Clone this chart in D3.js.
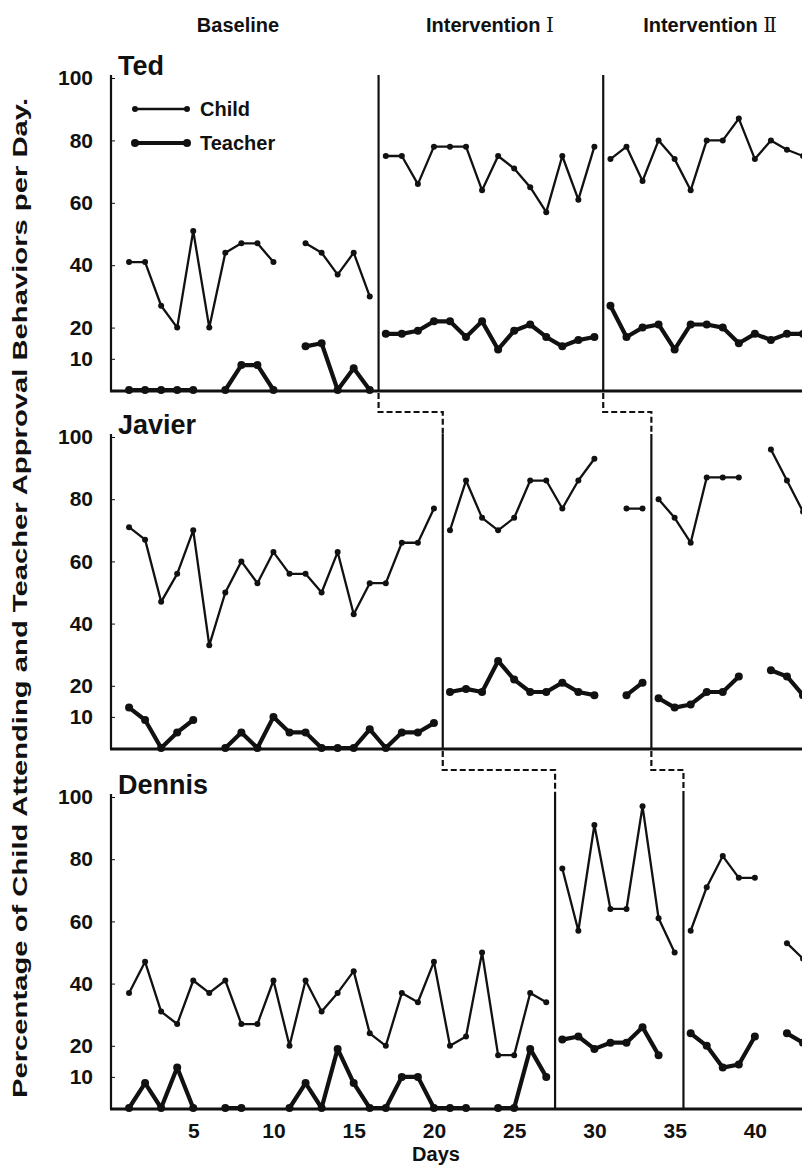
<!DOCTYPE html>
<html>
<head>
<meta charset="utf-8">
<script src="https://cdn.jsdelivr.net/npm/d3@7"></script>
<style>
  body { margin: 0; background: #fff; }
  svg { display: block; }
  text { font-family: "Liberation Sans", Arial, sans-serif; font-weight: bold; fill: #111; }
</style>
</head>
<body>
<div id="chart"></div>
<script>
// Data, one value per day (day 1 .. 43), null = no observation
var tedChild = [41, 41, 27, 20, 51, 20, 44, 47, 47, 41, null, 47, 44, 37, 44, 30,
  75, 75, 66, 78, 78, 78, 64, 75, 71, 65, 57, 75, 61, 78,
  74, 78, 67, 80, 74, 64, 80, 80, 87, 74, 80, 77, 75];
var tedTeacher = [0, 0, 0, 0, 0, null, 0, 8, 8, 0, null, 14, 15, 0, 7, 0,
  18, 18, 19, 22, 22, 17, 22, 13, 19, 21, 17, 14, 16, 17,
  27, 17, 20, 21, 13, 21, 21, 20, 15, 18, 16, 18, 18];
var javierChild = [71, 67, 47, 56, 70, 33, 50, 60, 53, 63, 56, 56, 50, 63, 43, 53, 53, 66, 66, 77,
  70, 86, 74, 70, 74, 86, 86, 77, 86, 93, null, 77, 77,
  80, 74, 66, 87, 87, 87, null, 96, 86, 76];
var javierTeacher = [13, 9, 0, 5, 9, null, 0, 5, 0, 10, 5, 5, 0, 0, 0, 6, 0, 5, 5, 8,
  18, 19, 18, 28, 22, 18, 18, 21, 18, 17, null, 17, 21,
  16, 13, 14, 18, 18, 23, null, 25, 23, 17];
var dennisChild = [37, 47, 31, 27, 41, 37, 41, 27, 27, 41, 20, 41, 31, 37, 44, 24, 20, 37, 34, 47, 20, 23, 50, 17, 17, 37, 34,
  77, 57, 91, 64, 64, 97, 61, 50,
  57, 71, 81, 74, 74, null, 53, 48];
var dennisTeacher = [0, 8, 0, 13, 0, null, 0, 0, null, null, 0, 8, 0, 19, 8, 0, 0, 10, 10, 0, 0, 0, null, 0, 0, 19, 10,
  22, 23, 19, 21, 21, 26, 17, null,
  24, 20, 13, 14, 23, null, 24, 21];

var names = ["Ted", "Javier", "Dennis"];
// first day of Intervention I and Intervention II for each child
var phaseStarts = [[17, 31], [21, 34], [28, 36]];
var phaseNames = [["Baseline", ""], ["Intervention ", "\u2160"], ["Intervention ", "\u2161"]];
var yTicks = [100, 80, 60, 40, 20, 10];
var xTicks = [5, 10, 15, 20, 25, 30, 35, 40];

var childSeries = [tedChild, javierChild, dennisChild];
var teacherSeries = [tedTeacher, javierTeacher, dennisTeacher];

var w = 802, h = 1167;
var panelTop = [78, 437, 797];
var panelBottom = [390, 748, 1108];
var axisX = 111;

var svg = d3.select("#chart").append("svg")
  .attr("width", w)
  .attr("height", h);

var x = d3.scaleLinear().domain([0, 43]).range([113, 803]);

function phaseX(day) {
  return x(day - 0.45);
}

// split a series into pieces per phase, breaking at missing days
function pieces(values, starts) {
  var bounds = [1, starts[0], starts[1], values.length + 1];
  var out = [];
  for (var p = 0; p < 3; p++) {
    var pts = [];
    for (var d = bounds[p]; d < bounds[p + 1]; d++) {
      pts.push({ day: d, v: values[d - 1] });
    }
    out.push(pts);
  }
  return out;
}

names.forEach(function (name, i) {
  var y = d3.scaleLinear().domain([0, 100]).range([panelBottom[i], panelTop[i]]);
  var g = svg.append("g");

  // left axis
  var yAxis = d3.axisLeft(y).tickValues(yTicks).tickSizeInner(-4).tickSizeOuter(0).tickPadding(18);
  var ax = g.append("g").attr("transform", "translate(" + axisX + ",0)").call(yAxis);
  ax.select(".domain").remove();
  ax.selectAll(".tick line").attr("stroke", "#111").attr("stroke-width", 1);
  ax.selectAll(".tick text").attr("font-size", 21).attr("font-family", null).attr("fill", "#111");
  g.append("line")
    .attr("x1", axisX).attr("x2", axisX)
    .attr("y1", panelTop[i] - 3).attr("y2", panelBottom[i] + 1)
    .attr("stroke", "#111").attr("stroke-width", 2.2);

  // bottom axis
  g.append("line")
    .attr("x1", axisX - 1).attr("x2", w)
    .attr("y1", panelBottom[i] + 1).attr("y2", panelBottom[i] + 1)
    .attr("stroke", "#111").attr("stroke-width", 3.2);

  // phase lines
  phaseStarts[i].forEach(function (s) {
    g.append("line")
      .attr("x1", phaseX(s)).attr("x2", phaseX(s))
      .attr("y1", panelTop[i] - 3).attr("y2", panelBottom[i])
      .attr("stroke", "#111").attr("stroke-width", 2.2);
  });

  // name
  g.append("text")
    .attr("x", 118).attr("y", panelTop[i] - 3)
    .attr("font-size", 27)
    .text(name);

  var line = d3.line()
    .defined(function (d) { return d.v != null; })
    .x(function (d) { return x(d.day); })
    .y(function (d) { return y(d.v); });

  // child
  pieces(childSeries[i], phaseStarts[i]).forEach(function (pts) {
    g.append("path").datum(pts)
      .attr("d", line)
      .attr("fill", "none").attr("stroke", "#111")
      .attr("stroke-width", 2.3).attr("stroke-linejoin", "round");
  });
  g.selectAll(".cdot")
    .data(childSeries[i].map(function (v, k) { return { day: k + 1, v: v }; })
      .filter(function (d) { return d.v != null; }))
    .enter().append("circle")
    .attr("cx", function (d) { return x(d.day); })
    .attr("cy", function (d) { return y(d.v); })
    .attr("r", 3)
    .attr("fill", "#111");

  // teacher
  pieces(teacherSeries[i], phaseStarts[i]).forEach(function (pts) {
    g.append("path").datum(pts)
      .attr("d", line)
      .attr("fill", "none").attr("stroke", "#111")
      .attr("stroke-width", 4.2).attr("stroke-linejoin", "round");
  });
  g.selectAll(".tdot")
    .data(teacherSeries[i].map(function (v, k) { return { day: k + 1, v: v }; })
      .filter(function (d) { return d.v != null; }))
    .enter().append("circle")
    .attr("cx", function (d) { return x(d.day); })
    .attr("cy", function (d) { return y(d.v); })
    .attr("r", 4)
    .attr("fill", "#111");

  // dashed connectors down to the next child's phase lines
  if (i < names.length - 1) {
    var midY = panelBottom[i] + 22;
    phaseStarts[i].forEach(function (s, k) {
      var x1 = phaseX(s), x2 = phaseX(phaseStarts[i + 1][k]);
      g.append("path")
        .attr("d", "M" + x1 + "," + (panelBottom[i] + 3) + "V" + midY + "H" + x2 + "V" + (panelTop[i + 1] - 3))
        .attr("fill", "none").attr("stroke", "#111")
        .attr("stroke-width", 2.2).attr("stroke-dasharray", "6,3");
    });
  }

  // x axis labels under the last panel
  if (i == names.length - 1) {
    var xAxis = d3.axisBottom(x).tickValues(xTicks).tickSize(0).tickPadding(15);
    var xa = g.append("g").attr("transform", "translate(0," + panelBottom[i] + ")").call(xAxis);
    xa.select(".domain").remove();
    xa.selectAll(".tick text").attr("font-size", 21).attr("font-family", null).attr("fill", "#111");
  }
});

// phase titles
var phaseCenters = [238, 490, 710];
phaseNames.forEach(function (t, k) {
  var tx = svg.append("text")
    .attr("x", phaseCenters[k]).attr("y", 32)
    .attr("text-anchor", "middle")
    .attr("font-size", 20);
  tx.append("tspan").text(t[0]);
  if (t[1]) {
    tx.append("tspan")
      .style("font-family", "'DejaVu Serif', 'Liberation Serif', serif")
      .style("font-weight", "normal")
      .text(t[1]);
  }
});

// legend
var legend = svg.append("g");
[["Child", 2.3, 3, 109], ["Teacher", 4.2, 4, 143]].forEach(function (l) {
  legend.append("line")
    .attr("x1", 135).attr("x2", 187)
    .attr("y1", l[3]).attr("y2", l[3])
    .attr("stroke", "#111").attr("stroke-width", l[1]);
  [135, 187].forEach(function (cx) {
    legend.append("circle").attr("cx", cx).attr("cy", l[3]).attr("r", l[2]).attr("fill", "#111");
  });
  legend.append("text")
    .attr("x", 200).attr("y", l[3] + 7)
    .attr("font-size", 20)
    .text(l[0]);
});

// axis titles
svg.append("text")
  .attr("x", 436).attr("y", 1161)
  .attr("text-anchor", "middle")
  .attr("font-size", 20)
  .text("Days");

svg.append("text")
  .attr("transform", "translate(27,598) rotate(-90)")
  .attr("text-anchor", "middle")
  .attr("font-size", 20)
  .attr("textLength", 1000)
  .attr("lengthAdjust", "spacingAndGlyphs")
  .text("Percentage of Child Attending and Teacher Approval Behaviors per Day.");
</script>
</body>
</html>
